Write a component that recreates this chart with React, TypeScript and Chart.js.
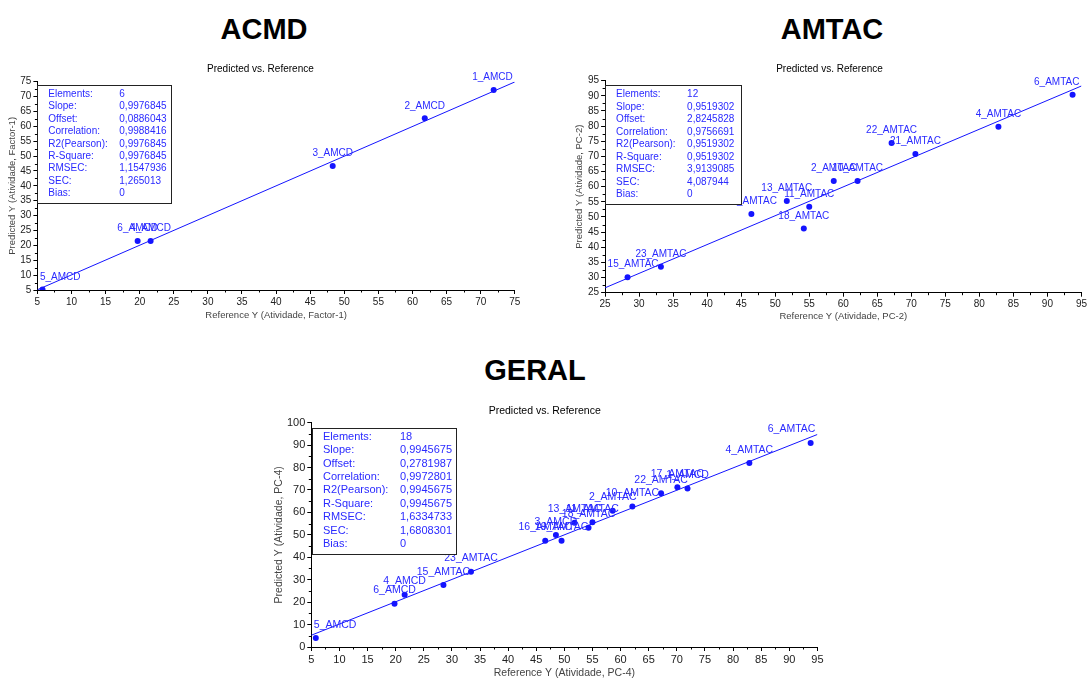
import React, { useEffect, useRef } from 'react';
import { Chart, registerables } from 'chart.js';

Chart.register(...registerables);

const FONT = "'Liberation Sans', Arial, Helvetica, sans-serif";
const POINT_BLUE = '#1414ff';
const TEXT_BLUE = '#2a2aff';

// ---------- shared ----------
const statNames = ['Elements:', 'Slope:', 'Offset:', 'Correlation:', 'R2(Pearson):', 'R-Square:', 'RMSEC:', 'SEC:', 'Bias:'];

// ---------- ACMD ----------
const acmdLabels = ['1_AMCD', '2_AMCD', '3_AMCD', '4_AMCD', '5_AMCD', '6_AMCD'];
const acmdRef = [71.9, 61.8, 48.3, 21.6, 5.75, 19.7];
const acmdPred = [72.2, 62.7, 46.7, 21.5, 5.2, 21.5];
const acmdFitX = [5, 75];
const acmdFitY = [5.08, 74.91];
const acmdStats = ['6', '0,9976845', '0,0886043', '0,9988416', '0,9976845', '0,9976845', '1,1547936', '1,265013', '0'];
const acmdXRange = [5, 75, 5];
const acmdYRange = [5, 75, 5];

// ---------- AMTAC ----------
const amtacLabels = ['6_AMTAC', '4_AMTAC', '22_AMTAC', '21_AMTAC', '10_AMTAC', '2_AMTAC', '13_AMTAC', '11_AMTAC', '16_AMTAC', '18_AMTAC', '23_AMTAC', '15_AMTAC'];
const amtacRef = [93.7, 82.8, 67.1, 70.6, 62.1, 58.6, 51.7, 55.0, 46.5, 54.2, 33.2, 28.3];
const amtacPred = [90.4, 79.8, 74.4, 70.8, 61.9, 61.9, 55.3, 53.4, 51.0, 46.2, 33.6, 30.1];
const amtacFitX = [25, 95];
const amtacFitY = [26.62, 93.26];
const amtacStats = ['12', '0,9519302', '2,8245828', '0,9756691', '0,9519302', '0,9519302', '3,9139085', '4,087944', '0'];
const amtacXRange = [25, 95, 5];
const amtacYRange = [25, 95, 5];

// ---------- GERAL ----------
const geralLabels = ['5_AMCD', '6_AMCD', '4_AMCD', '15_AMTAC', '23_AMTAC', '16_AMTAC', '3_AMCD', '19_AMTAC', '13_AMTAC', '18_AMTAC', '11_AMTAC', '2_AMTAC', '10_AMTAC', '22_AMTAC', '17_AMTAC', '1_AMCD', '4_AMTAC', '6_AMTAC'];
const geralRef = [5.8, 19.8, 21.6, 28.5, 33.4, 46.6, 48.5, 49.5, 51.8, 54.3, 55.0, 58.6, 62.1, 67.2, 70.1, 71.9, 82.9, 93.8];
const geralPred = [4.0, 19.3, 23.3, 27.6, 33.6, 47.4, 49.9, 47.4, 55.4, 53.2, 55.6, 60.8, 62.6, 68.5, 71.2, 70.7, 82.0, 91.0];
const geralFitX = [5, 95];
const geralFitY = [5.25, 94.76];
const geralStats = ['18', '0,9945675', '0,2781987', '0,9972801', '0,9945675', '0,9945675', '1,6334733', '1,6808301', '0'];
const geralXRange = [5, 95, 5];
const geralYRange = [0, 100, 10];

type Spec = {
  labels: string[]; xs: number[]; ys: number[]; fitX: number[]; fitY: number[];
  stats: string[]; xRange: number[]; yRange: number[];
  xTitle: string; yTitle: string;
  canvas: { left: number; top: number; width: number; height: number };
  plot: { left: number; right: number; top: number; bottom: number };
  titleY: number; xTitleY: number; yTitleX: number;
  style: any;
};

const specs: Spec[] = [
  {
    labels: acmdLabels, xs: acmdRef, ys: acmdPred, fitX: acmdFitX, fitY: acmdFitY, stats: acmdStats,
    xRange: acmdXRange, yRange: acmdYRange,
    xTitle: 'Reference Y (Atividade, Factor-1)', yTitle: 'Predicted Y (Atividade, Factor-1)',
    canvas: { left: 6, top: 56, width: 526, height: 270 },
    plot: { left: 37.4, right: 514.8, top: 81.7, bottom: 290 },
    titleY: 69.3, xTitleY: 315, yTitleX: 12.6,
    style: { titleFont: 10, tickFont: 10, axisTitleFont: 9.5, labelFont: 10, labelRise: 12.3, statFont: 10,
      boxDx: 0, boxDy: 3.3, boxW: 134.3, boxH: 118.3, textDx: 10.9, valueDx: 81.9, rowDy: 9.3, rowH: 12.4 },
  },
  {
    labels: amtacLabels, xs: amtacRef, ys: amtacPred, fitX: amtacFitX, fitY: amtacFitY, stats: amtacStats,
    xRange: amtacXRange, yRange: amtacYRange,
    xTitle: 'Reference Y (Atividade, PC-2)', yTitle: 'Predicted Y (Atividade, PC-2)',
    canvas: { left: 574, top: 56, width: 515, height: 270 },
    plot: { left: 605.1, right: 1085, top: 80.7, bottom: 292.7 },
    titleY: 69.3, xTitleY: 316, yTitleX: 579.7,
    style: { titleFont: 10, tickFont: 10, axisTitleFont: 9.5, labelFont: 10, labelRise: 12.7, statFont: 10,
      boxDx: 0, boxDy: 4.3, boxW: 135.6, boxH: 119.3, textDx: 11, valueDx: 82, rowDy: 9.3, rowH: 12.55 },
  },
  {
    labels: geralLabels, xs: geralRef, ys: geralPred, fitX: geralFitX, fitY: geralFitY, stats: geralStats,
    xRange: geralXRange, yRange: geralYRange,
    xTitle: 'Reference Y (Atividade, PC-4)', yTitle: 'Predicted Y (Atividade, PC-4)',
    canvas: { left: 272, top: 396, width: 560, height: 283 },
    plot: { left: 311.3, right: 817.4, top: 422.7, bottom: 647 },
    titleY: 410.7, xTitleY: 672.7, yTitleX: 279,
    style: { titleFont: 10.5, tickFont: 11, axisTitleFont: 10.5, labelFont: 10.5, labelRise: 13.3, statFont: 11,
      boxDx: 1.1, boxDy: 5, boxW: 143.6, boxH: 126.3, textDx: 10.6, valueDx: 87.6, rowDy: 9, rowH: 13.4 },
  },
];

const bigTitles = [
  { text: 'ACMD', cx: 264, cy: 28.3 },
  { text: 'AMTAC', cx: 832, cy: 28.3 },
  { text: 'GERAL', cx: 535, cy: 370 },
];

function buildChart(canvas: HTMLCanvasElement, spec: Spec, title: string) {
  const { canvas: c, plot: p, style: s } = spec;
  const W = c.width, H = c.height;
  const plotL = p.left - c.left;
  const plotR = p.right - c.left;
  const plotT = p.top - c.top;
  const plotB = p.bottom - c.top;
  const lhTitle = s.titleFont * 1.2;
  const titlePadTop = spec.titleY - c.top - lhTitle / 2;
  const titlePadBottom = plotT - titlePadTop - lhTitle;
  const lhAxis = s.axisTitleFont * 1.2;
  const xTitlePadBottom = H - (spec.xTitleY - c.top) - lhAxis / 2;
  const yTitlePadTop = (spec.yTitleX - c.left) - lhAxis / 2;

  const annotate = {
    id: 'annotate',
    afterDatasetsDraw(chart: any) {
      const { ctx, chartArea: a, scales } = chart;
      const xs = scales.x, ys = scales.y;
      ctx.save();
      ctx.font = `${s.labelFont}px ${FONT}`;
      ctx.fillStyle = TEXT_BLUE;
      ctx.textBaseline = 'middle';
      ctx.textAlign = 'left';
      spec.labels.forEach((lab, i) => {
        const px = xs.getPixelForValue(spec.xs[i]);
        const py = ys.getPixelForValue(spec.ys[i]);
        const w = ctx.measureText(lab).width;
        let x0 = px - w / 2;
        x0 = Math.min(x0, a.right - w - 2);
        x0 = Math.max(x0, a.left + 2.5);
        ctx.fillText(lab, x0, py - s.labelRise);
      });
      const bx = a.left + s.boxDx;
      const by = a.top + s.boxDy;
      ctx.fillStyle = '#ffffff';
      ctx.fillRect(bx, by, s.boxW, s.boxH);
      ctx.strokeStyle = '#222222';
      ctx.lineWidth = 1;
      ctx.strokeRect(Math.round(bx) + 0.5, Math.round(by) + 0.5, Math.round(s.boxW), Math.round(s.boxH));
      ctx.font = `${s.statFont}px ${FONT}`;
      ctx.fillStyle = TEXT_BLUE;
      statNames.forEach((n, i) => {
        const y = by + s.rowDy + i * s.rowH;
        ctx.fillText(n, bx + s.textDx, y);
        ctx.fillText(spec.stats[i], bx + s.valueDx, y);
      });
      ctx.restore();
    },
    afterDraw(chart: any) {
      const { ctx, chartArea: a, scales } = chart;
      ctx.save();
      ctx.strokeStyle = '#000';
      ctx.lineWidth = 1;
      ctx.beginPath();
      const xt = scales.x.ticks.map((t: any) => t.value);
      for (let i = 0; i < xt.length - 1; i++) {
        const px = Math.round(scales.x.getPixelForValue((xt[i] + xt[i + 1]) / 2)) + 0.5;
        ctx.moveTo(px, a.bottom);
        ctx.lineTo(px, a.bottom + 2.5);
      }
      const yt = scales.y.ticks.map((t: any) => t.value);
      for (let i = 0; i < yt.length - 1; i++) {
        const py = Math.round(scales.y.getPixelForValue((yt[i] + yt[i + 1]) / 2)) + 0.5;
        ctx.moveTo(a.left, py);
        ctx.lineTo(a.left - 2.5, py);
      }
      ctx.stroke();
      ctx.restore();
    },
  };

  const axisCommon = (range: number[]) => ({
    type: 'linear' as const,
    min: range[0],
    max: range[1],
    ticks: {
      stepSize: range[2],
      autoSkip: false,
      maxRotation: 0,
      padding: 2,
      color: '#222',
      font: { family: FONT, size: s.tickFont },
      callback: (v: any) => String(v),
    },
    grid: { display: true, drawOnChartArea: false, drawTicks: true, tickLength: 4, color: '#000', lineWidth: 1 },
    border: { display: true, color: '#000', width: 1 },
  });

  return new Chart(canvas, {
    type: 'scatter',
    data: {
      datasets: [
        {
          label: 'samples',
          data: spec.xs.map((x, i) => ({ x, y: spec.ys[i] })),
          pointRadius: 3,
          pointBackgroundColor: POINT_BLUE,
          pointBorderWidth: 0,
          showLine: false,
        },
        {
          label: 'fit',
          data: spec.fitX.map((x, i) => ({ x, y: spec.fitY[i] })),
          showLine: true,
          pointRadius: 0,
          borderColor: POINT_BLUE,
          borderWidth: 1,
        },
      ],
    },
    options: {
      responsive: false,
      animation: false,
      devicePixelRatio: 1,
      layout: { padding: { left: 0, right: W - plotR, top: 0, bottom: 0 } },
      plugins: {
        legend: { display: false },
        tooltip: { enabled: false },
        title: {
          display: true,
          text: title,
          color: '#000',
          font: { family: FONT, size: s.titleFont, weight: 'normal' },
          padding: { top: titlePadTop, bottom: titlePadBottom },
        },
      },
      scales: {
        x: {
          ...axisCommon(spec.xRange),
          position: 'bottom',
          title: {
            display: true, text: spec.xTitle, color: '#444',
            font: { family: FONT, size: s.axisTitleFont },
            padding: { top: 0, bottom: xTitlePadBottom },
          },
          afterFit: (sc: any) => { sc.height = H - plotB; },
        },
        y: {
          ...axisCommon(spec.yRange),
          position: 'left',
          title: {
            display: true, text: spec.yTitle, color: '#444',
            font: { family: FONT, size: s.axisTitleFont },
            padding: { top: yTitlePadTop, bottom: 0 },
          },
          afterFit: (sc: any) => { sc.width = plotL; },
        },
      },
    },
    plugins: [annotate],
  } as any);
}

function Panel({ spec }: { spec: Spec }) {
  const ref = useRef<HTMLCanvasElement>(null);
  useEffect(() => {
    const chart = buildChart(ref.current!, spec, 'Predicted vs. Reference');
    return () => chart.destroy();
  }, [spec]);
  const c = spec.canvas;
  return (
    <canvas
      ref={ref}
      width={c.width}
      height={c.height}
      style={{ position: 'absolute', left: c.left, top: c.top, width: c.width, height: c.height }}
    />
  );
}

export default function App() {
  return (
    <div style={{ position: 'absolute', left: 0, top: 0, width: 1089, height: 679, overflow: 'hidden', background: '#fff' }}>
      {bigTitles.map((t) => (
        <div
          key={t.text}
          style={{
            position: 'absolute', left: t.cx - 100, width: 200, top: t.cy - 16.6, height: 34,
            lineHeight: '34px', textAlign: 'center', fontFamily: FONT, fontWeight: 'bold', fontSize: 29, color: '#000',
          }}
        >
          {t.text}
        </div>
      ))}
      {specs.map((s, i) => <Panel key={i} spec={s} />)}
    </div>
  );
}
